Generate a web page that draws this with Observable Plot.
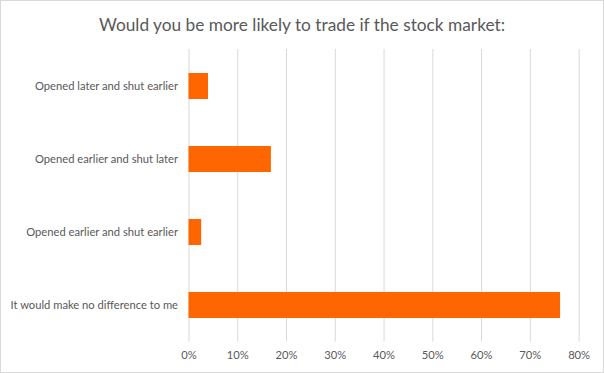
<!DOCTYPE html>
<html>
<head>
<meta charset="utf-8">
<script src="https://cdn.jsdelivr.net/npm/d3@7"></script>
<script src="https://cdn.jsdelivr.net/npm/@observablehq/plot@0.6"></script>
<style>
  html, body { margin: 0; padding: 0; background: #fff; }
  #chart {
    width: 604px; height: 373px; box-sizing: border-box;
    border: 1px solid #d9d9d9; background: #fff; overflow: hidden;
    font-family: Lato, "Open Sans", sans-serif;
  }
  #title {
    height: 40px; box-sizing: border-box; padding-top: 13px;
    text-align: center; font-size: 17.3px; line-height: 21px; color: #595959;
  }
  svg { display: block; }
</style>
</head>
<body>
<div id="chart">
  <div id="title">Would you be more likely to trade if the stock market:</div>
</div>
<script>
const categories = [
  "Opened later and shut earlier",
  "Opened earlier and shut later",
  "Opened earlier and shut earlier",
  "It would make no difference to me"
];
const values = [0.040, 0.169, 0.026, 0.762];
const xTicks = [0, 0.1, 0.2, 0.3, 0.4, 0.5, 0.6, 0.7, 0.8];

const data = categories.map((c, i) => ({category: c, value: values[i]}));

const chart = Plot.plot({
  width: 602,
  height: 331,
  marginTop: 8,
  marginBottom: 30.5,
  marginLeft: 187.5,
  marginRight: 24.4,
  style: {fontFamily: "Lato, 'Open Sans', sans-serif", fontSize: "11.2px", color: "#595959", background: "#fff"},
  x: {domain: [0, 0.8], ticks: xTicks, tickFormat: d3.format(".0%"), label: null, tickSize: 0, tickPadding: 9},
  y: {domain: categories, paddingInner: 0.644, paddingOuter: 0.322, label: null, tickSize: 0, tickPadding: 11},
  marks: [
    Plot.gridX(xTicks, {stroke: "#d9d9d9", strokeOpacity: 1}),
    Plot.barX(data, {x: "value", y: "category", fill: "#ff6600"})
  ]
});
document.getElementById("chart").appendChild(chart);
</script>
</body>
</html>
